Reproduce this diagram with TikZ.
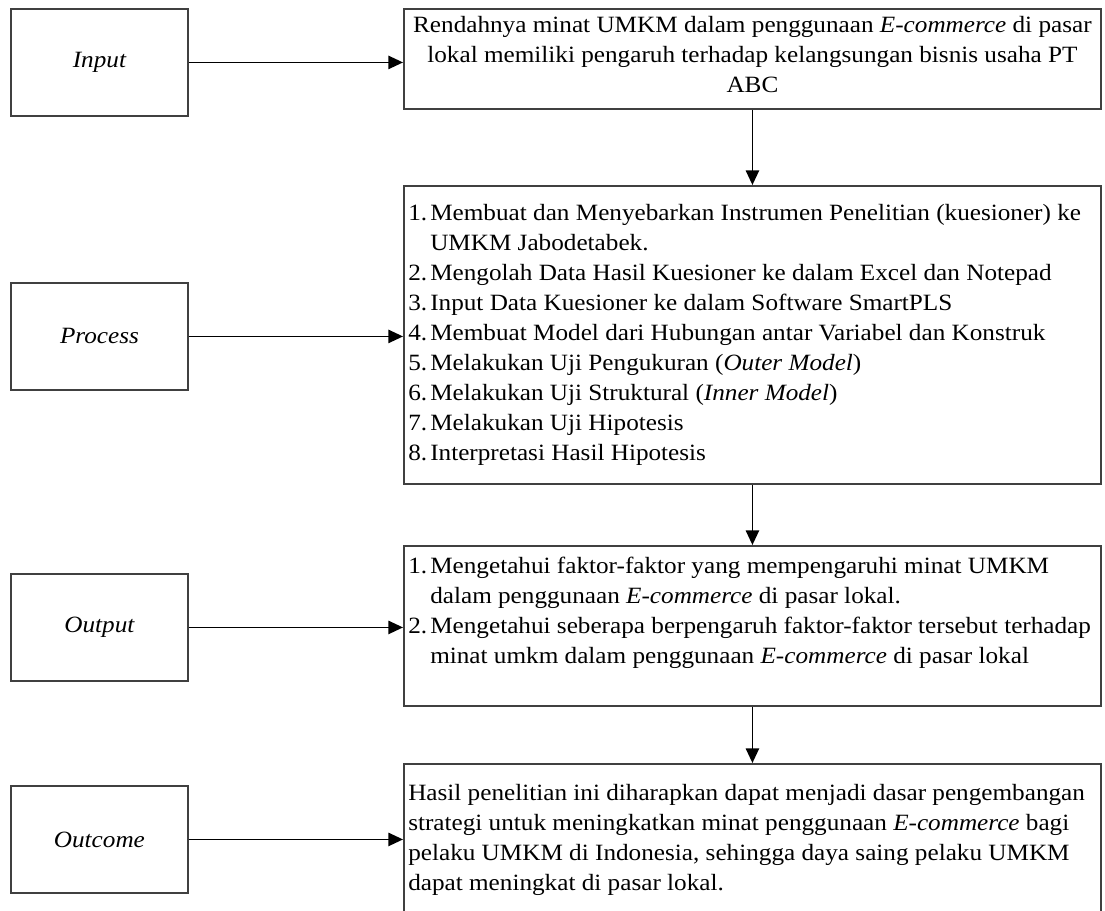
\documentclass[tikz,border=0pt]{standalone}
\usepackage{fontspec}
\setmainfont{Liberation Serif}[FakeStretch=1.08]
\usetikzlibrary{arrows.meta}
\newcommand\itm[1]{\makebox[16.5pt][l]{#1}}
\newcommand\hng{\hspace*{16.5pt}}
\begin{document}
\begin{tikzpicture}[x=0.75pt,y=-0.75pt,
  boxbase/.style={draw=black!75, line width=1.4pt, rectangle, inner sep=0pt, anchor=north west},
  lbl/.style={boxbase, minimum width=132.75pt, minimum height=80.25pt, font=\fontsize{17.5}{22.5}\selectfont\itshape},
  rbox/.style={boxbase, minimum width=522.75pt},
  txt/.style={inner sep=0pt, font=\fontsize{17.5}{22.5}\selectfont},
  arr/.style={line width=1.2pt, -{Triangle[length=11pt,width=10pt]}}]
\useasboundingbox[fill=white] (0,0) rectangle (1105,910);
% left boxes
\node[lbl] (inL) at (10,8) {Input};
\node[lbl] (prL) at (10,282) {Process};
\node[lbl] (ouL) at (10,573) {Output};
\node[lbl] (ocL) at (10,785) {Outcome};
% right boxes
\node[rbox, minimum height=75pt] (inR) at (403,8) {};
\node[rbox, minimum height=223.5pt] (prR) at (403,185) {};
\node[rbox, minimum height=120pt] (ouR) at (403,545) {};
\node[rbox, minimum height=120pt] (ocR) at (403,763) {};
% texts
\node[txt, align=center] (inT) at ([yshift=3pt]inR.center) {Rendahnya minat UMKM dalam penggunaan \textit{E-commerce} di pasar\\ lokal memiliki pengaruh terhadap kelangsungan bisnis usaha PT\\ ABC};
\node[txt, align=left, anchor=west] (prT) at (408,335) {\itm{1.}Membuat dan Menyebarkan Instrumen Penelitian (kuesioner) ke\\
\hng UMKM Jabodetabek.\\
\itm{2.}Mengolah Data Hasil Kuesioner ke dalam Excel dan Notepad\\
\itm{3.}Input Data Kuesioner ke dalam Software SmartPLS\\
\itm{4.}Membuat Model dari Hubungan antar Variabel dan Konstruk\\
\itm{5.}Melakukan Uji Pengukuran (\textit{Outer Model})\\
\itm{6.}Melakukan Uji Struktural (\textit{Inner Model})\\
\itm{7.}Melakukan Uji Hipotesis\\
\itm{8.}Interpretasi Hasil Hipotesis};
\node[txt, align=left, anchor=west] (ouT) at (408,613) {\itm{1.}Mengetahui faktor-faktor yang mempengaruhi minat UMKM\\
\hng dalam penggunaan \textit{E-commerce} di pasar lokal.\\
\itm{2.}Mengetahui seberapa berpengaruh faktor-faktor tersebut terhadap\\
\hng minat umkm dalam penggunaan \textit{E-commerce} di pasar lokal};
\node[txt, align=left, anchor=west] (ocT) at (408,840) {Hasil penelitian ini diharapkan dapat menjadi dasar pengembangan\\
strategi untuk meningkatkan minat penggunaan \textit{E-commerce} bagi\\
pelaku UMKM di Indonesia, sehingga daya saing pelaku UMKM\\
dapat meningkat di pasar lokal.};
% connectors
\draw[arr] (inL.east) -- (inL.east -| inR.west);
\draw[arr] (prL.east) -- (prL.east -| prR.west);
\draw[arr] (ouL.east) -- (ouL.east -| ouR.west);
\draw[arr] (ocL.east) -- (ocL.east -| ocR.west);
\draw[arr] (inR.south) -- (prR.north);
\draw[arr] (prR.south) -- (ouR.north);
\draw[arr] (ouR.south) -- (ocR.north);
\end{tikzpicture}
\end{document}
